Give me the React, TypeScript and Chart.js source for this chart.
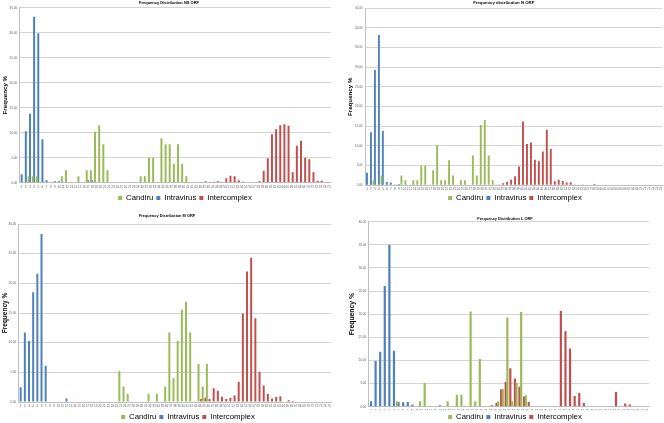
import React, { useEffect, useRef } from "react";
import { Chart, registerables } from "chart.js";

Chart.register(...registerables);

const FONT = "'Liberation Sans', Arial, sans-serif";
const GREEN = "#9BBB59";
const BLUE = "#4F81BD";
const RED = "#C0504D";

const categories75 = [
  "1","2","3","4","5","6","7","8","9","10",
  "11","12","13","14","15","16","17","18","19","20",
  "21","22","23","24","25","26","27","28","29","30",
  "31","32","33","34","35","36","37","38","39","40",
  "41","42","43","44","45","46","47","48","49","50",
  "51","52","53","54","55","56","57","58","59","60",
  "61","62","63","64","65","66","67","68","69","70",
  "71","72","73","74","75",
];
const categories61 = [
  "1","2","3","4","5","6","7","8","9","10",
  "11","12","13","14","15","16","17","18","19","20",
  "21","22","23","24","25","26","27","28","29","30",
  "31","32","33","34","35","36","37","38","39","40",
  "41","42","43","44","45","46","47","48","49","50",
  "51","52","53","54","55","56","57","58","59","60",
  "61",
];

// NS ORF
const nsCandiru = [
  0,0,1.3,1.3,1.3,0,0,0,0,0,
  1.3,2.5,0,0,1.3,0,2.5,2.5,10.2,11.5,
  7.7,2.5,0,0,0,0,0,0,0.1,1.3,
  1.3,5.0,5.0,0,8.9,7.7,7.7,3.8,7.7,3.8,
  1.3,0,0,0,0,0,0,0,0,0,
  0,0,0,0,0,0,0,0,0,0,
  0,0,0,0,0,0,0,0,0,0,
  0,0,0,0,0,
];
const nsIntravirus = [
  1.7,10.3,13.8,33.2,29.9,8.7,0.5,0,0.3,0.3,
  0,0,0,0,0,0,0.5,0.5,0,0,
  0,0,0,0,0,0,0,0,0,0,
  0,0,0,0,0,0,0,0,0,0,
  0,0,0,0,0,0,0,0,0,0,
  0,0,0,0,0,0,0,0,0,0,
  0,0,0,0,0,0,0,0,0,0,
  0,0,0,0,0,
];
const nsIntercomplex = [
  0,0,0,0,0,0,0,0,0,0,
  0,0,0,0,0,0,0,0,0,0,
  0,0,0,0,0,0,0,0,0,0,
  0,0,0,0,0,0,0,0,0,0.05,
  0,0,0.15,0.15,0.3,0.15,0.2,0.3,0.15,0.9,
  1.4,1.3,0.5,0.2,0.1,0,0,0.3,2.4,4.9,
  9.7,10.7,11.5,11.7,11.4,2.1,7.4,8.4,5.0,4.7,
  2.1,0.4,0.4,0.15,0.15,
];

// N ORF
const nCandiru = [
  0,0,1.3,0,2.5,0,0,0,0,2.5,
  1.3,0,1.3,1.3,5.0,5.0,0,3.8,10.2,1.3,
  1.3,6.4,2.5,0,1.3,1.3,0,7.6,2.5,15.3,
  16.6,7.6,1.3,0.2,0,0,0,0,0,0,
  0,0,0,0,0,0,0,0,0,0,
  0,0,0,0,0,0,0,0,0,0,
  0,0,0,0,0,0,0,0,0,0,
  0,0,0,0,0,
];
const nIntravirus = [
  3.2,13.5,29.3,38.2,13.8,0.85,0.7,0.1,0.3,0,
  0,0,0,0,0,0,0,0,0,0,
  0,0,0,0,0,0,0,0,0,0,
  0,0,0,0,0,0,0,0,0,0,
  0,0,0,0,0,0,0,0,0,0,
  0,0,0,0,0,0,0,0,0,0,
  0,0,0,0,0,0,0,0,0,0,
  0,0,0,0,0,
];
const nIntercomplex = [
  0,0,0,0,0,0,0,0,0,0,
  0,0,0,0,0,0,0,0,0,0,
  0,0,0,0,0,0,0,0,0,0,
  0,0,0,0.2,0.5,0.9,1.4,2.3,4.8,16.2,
  10.5,10.9,6.5,6.1,8.6,14.1,9.2,1.0,1.4,1.1,
  0.7,0.8,0.2,0.15,0.05,0,0,0.3,0,0,
  0,0,0,0,0,0,0,0,0,0,
  0,0,0,0,0,
];

// M ORF
const mCandiru = [
  0,0,0,0,0,0,0,0,0,0,
  0,0,0,0,0,0,0,0,0,0,
  0,0,0,0,5.2,2.6,1.4,0,0,0,
  0,1.4,0,1.4,0,2.6,11.7,4.0,10.3,15.6,
  16.9,11.7,0.05,6.4,2.6,6.4,0,0,0,0,
  0,0,0,0,0,0,0,0,0,0,
  0,0,0,0,0,0,0,0,0,0,
  0,0,0,0,0,
];
const mIntravirus = [
  2.5,11.7,10.3,18.5,21.6,28.3,6.1,0.1,0,0,
  0,0.6,0,0,0,0,0,0,0.1,0.05,
  0,0,0,0,0,0,0,0,0,0,
  0,0,0,0,0,0,0,0,0,0,
  0,0,0,0,0,0,0,0,0,0,
  0,0,0,0,0,0,0,0,0,0,
  0,0,0,0,0,0,0,0,0,0,
  0,0,0,0,0,
];
const mIntercomplex = [
  0,0,0,0,0,0,0,0,0,0,
  0,0,0,0,0,0,0,0,0,0,
  0,0,0,0,0,0,0,0,0,0,
  0,0,0,0,0,0,0,0,0,0,
  0,0,0,0.5,0.7,0.5,2.3,1.9,0.9,0.5,
  0.7,1.1,3.4,14.9,22.0,24.3,14.1,5.1,2.8,1.35,
  0.6,0.85,0.95,0.1,0.3,0.15,0.1,0,0,0,
  0,0,0,0,0,
];

// L ORF
const lCandiru = [
  0,0,0,0,0,0,1.2,0,0,0,
  0,1.2,5.1,0,0,0,0,1.2,0,2.6,
  2.6,0,20.6,1.2,10.3,0,0,0,1.2,3.8,
  19.3,1.2,5.2,20.5,2.5,0,0,0,0,0,
  0,0,0,0,0,0,0,0,0,0,
  0,0,0,0,0,0,0,0,0,0,
  0,
];
const lIntravirus = [
  1.2,9.9,11.9,26.1,35.0,12.1,0.95,0.95,1.0,0.5,
  0,0,0,0,0,0.3,0,0,0,0,
  0,0,0,0,0,0,0,0,0,0,
  0,0,0,0,0,0,0,0,0,0,
  0,0,0,0,0,0,0,0,0,0,
  0,0,0,0,0,0,0,0,0,0,
  0,
];
const lIntercomplex = [
  0,0,0,0,0,0,0,0,0,0,
  0,0,0,0,0,0,0,0,0,0,
  0,0,0,0,0,0,0.3,0.8,3.8,5.4,
  8.3,6.1,4.3,2.2,1.0,0.1,0,0,0,0,
  0,20.7,16.3,12.6,2.3,2.95,0.8,0,0,0,
  0,0,0,3.2,0.1,0.7,0.5,0,0,0,
  0,
];

type Spec = {
  title: string;
  titleSize: number;
  titleX: number;
  titleY: number;
  left: number;
  top: number;
  w: number;
  h: number;
  plotL: number;
  plotR: number;
  plotT: number;
  plotB: number;
  yMax: number;
  yTitleX: number;
  yTitleSize: number;
  legendX: number;
  labels: string[];
  candiru: number[];
  intravirus: number[];
  intercomplex: number[];
};

const panels: Spec[] = [
  {
    title: "Frequency Distribution NS ORF", titleSize: 4, titleX: 169, titleY: 2.7,
    left: 0, top: 0, w: 334, h: 212,
    plotL: 19.6, plotR: 330.8, plotT: 7.7, plotB: 182.7,
    yMax: 35, yTitleX: 5.5, yTitleSize: 6.2, legendX: 185,
    labels: categories75, candiru: nsCandiru, intravirus: nsIntravirus, intercomplex: nsIntercomplex,
  },
  {
    title: "Frequency distribution N ORF", titleSize: 4.3, titleX: 503.7, titleY: 2.7,
    left: 332, top: 0, w: 334, h: 212,
    plotL: 365.0, plotR: 662.6, plotT: 8.3, plotB: 185.3,
    yMax: 45, yTitleX: 350.3, yTitleSize: 6.2, legendX: 515,
    labels: categories75, candiru: nCandiru, intravirus: nIntravirus, intercomplex: nIntercomplex,
  },
  {
    title: "Frequency Distribution M ORF", titleSize: 3.9, titleX: 167, titleY: 216,
    left: 0, top: 210, w: 334, h: 221,
    plotL: 18.6, plotR: 331.1, plotT: 224, plotB: 402,
    yMax: 30, yTitleX: 5.5, yTitleSize: 6.5, legendX: 188,
    labels: categories75, candiru: mCandiru, intravirus: mIntravirus, intercomplex: mIntercomplex,
  },
  {
    title: "Frequency Distribution L ORF", titleSize: 3.9, titleX: 505, titleY: 219.3,
    left: 332, top: 210, w: 334, h: 221,
    plotL: 368.7, plotR: 649, plotT: 221.7, plotB: 406.7,
    yMax: 40, yTitleX: 352, yTitleSize: 6.8, legendX: 515,
    labels: categories61, candiru: lCandiru, intravirus: lIntravirus, intercomplex: lIntercomplex,
  },
];

function Panel({ spec }: { spec: Spec }) {
  const ref = useRef<HTMLCanvasElement>(null);
  useEffect(() => {
    const s = spec;
    const lh = s.titleSize * 1.2;
    const titlePadTop = Math.max(0, s.titleY - s.top - lh / 2);
    const titlePadBottom = Math.max(0, s.plotT - s.top - titlePadTop - lh);
    const legendFont = 7.8;
    const legendPad = 3;
    const legendH = legendFont + legendPad + 10;
    const xH = s.h - legendH - (s.plotB - s.top);
    const yW = s.plotL - s.left;
    const padRight = s.left + s.w - s.plotR;
    const yLh = s.yTitleSize * 1.2;
    const yTitlePad = Math.max(0, s.yTitleX - s.left - yLh / 2);
    const shift = {
      id: "shiftBlocks",
      afterLayout(chart: any) {
        const t = chart.titleBlock;
        if (t) {
          const d = s.titleX - s.left - (t.left + t.right) / 2;
          t.left += d;
          t.right += d;
        }
        const l = chart.legend;
        if (l) {
          const d = s.legendX - s.left - (l.left + l.right) / 2;
          l.left += d;
          l.right += d;
        }
      },
    };
    const barOpts = { categoryPercentage: 0.96, barPercentage: 1.5, borderWidth: 0 };
    const chart = new Chart(ref.current as HTMLCanvasElement, {
      type: "bar",
      data: {
        labels: s.labels,
        datasets: [
          { label: "Candiru", data: s.candiru, backgroundColor: GREEN, ...barOpts },
          { label: "Intravirus", data: s.intravirus, backgroundColor: BLUE, ...barOpts },
          { label: "Intercomplex", data: s.intercomplex, backgroundColor: RED, ...barOpts },
        ],
      },
      options: {
        responsive: false,
        maintainAspectRatio: false,
        animation: false,
        devicePixelRatio: 1,
        layout: { padding: { left: 0, top: 0, right: padRight, bottom: 0 } },
        plugins: {
          title: {
            display: true,
            text: s.title,
            color: "#000",
            font: { family: FONT, size: s.titleSize, weight: "bold" },
            padding: { top: titlePadTop, bottom: titlePadBottom },
          },
          legend: {
            position: "bottom",
            labels: {
              boxWidth: 4,
              boxHeight: 4,
              padding: legendPad,
              color: "#000",
              font: { family: FONT, size: legendFont },
            },
          },
          tooltip: { enabled: false },
        },
        scales: {
          x: {
            grid: { display: false, drawTicks: false },
            border: { display: true, color: "#bfbfbf" },
            ticks: {
              autoSkip: false,
              maxRotation: 0,
              minRotation: 0,
              padding: 2.5,
              color: "#595959",
              font: { family: FONT, size: 3 },
            },
            afterFit: (sc: any) => {
              sc.height = xH;
            },
          },
          y: {
            min: 0,
            max: s.yMax,
            ticks: {
              stepSize: 5,
              padding: 2.5,
              color: "#595959",
              font: { family: FONT, size: 3 },
              callback: (v: any) => Number(v).toFixed(2),
            },
            grid: { color: "#d4d4d4", drawTicks: false },
            border: { display: true, color: "#bfbfbf" },
            title: {
              display: true,
              text: "Frequency %",
              color: "#000",
              font: { family: FONT, size: s.yTitleSize, weight: "bold" },
              padding: { top: yTitlePad, bottom: 0 },
            },
            afterFit: (sc: any) => {
              sc.width = yW;
            },
          },
        },
      } as any,
      plugins: [shift],
    });
    return () => chart.destroy();
  }, [spec]);
  return (
    <canvas
      ref={ref}
      width={spec.w}
      height={spec.h}
      style={{ position: "absolute", left: spec.left, top: spec.top, width: spec.w, height: spec.h }}
    />
  );
}

export default function App() {
  return (
    <div
      style={{
        position: "fixed",
        left: 0,
        top: 0,
        width: 664,
        height: 423,
        overflow: "hidden",
        background: "#fff",
      }}
    >
      {panels.map((p) => (
        <Panel key={p.title} spec={p} />
      ))}
    </div>
  );
}
